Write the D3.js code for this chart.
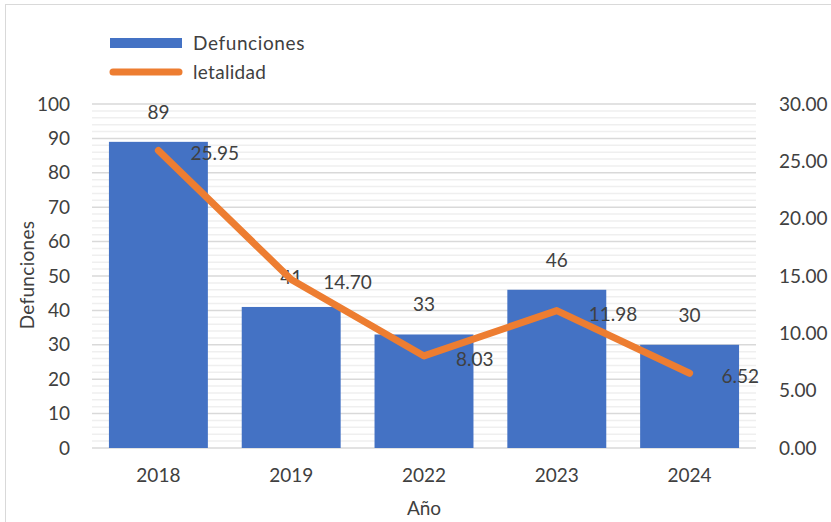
<!DOCTYPE html>
<html>
<head>
<meta charset="utf-8">
<script src="https://cdn.jsdelivr.net/npm/d3@7"></script>
<style>
  body { margin: 0; background: #fff; }
  text { font-family: Lato, "Open Sans", sans-serif; fill: #404040; }
</style>
</head>
<body>
<div id="chart"></div>
<script>

const years = ["2018", "2019", "2022", "2023", "2024"];
const defunciones = [89, 41, 33, 46, 30];
const letalidad = [25.95, 14.70, 8.03, 11.98, 6.52];
const leftTicks = [0, 10, 20, 30, 40, 50, 60, 70, 80, 90, 100];
const rightTicks = [0, 5, 10, 15, 20, 25, 30];

const W = 831, H = 522;
const plotLeft = 92, plotRight = 756, plotTop = 104, plotBottom = 448;
const fs = "19px";

let svg = d3.select("#chart")
    .append("svg")
    .attr("width", W)
    .attr("height", H);

// outer frame
svg.append("rect")
    .attr("x", 5.5).attr("y", 4.5)
    .attr("width", 840).attr("height", 540)
    .attr("fill", "none")
    .attr("stroke", "#d9d9d9");

const x = d3.scaleBand().domain(years).range([plotLeft, plotRight]).paddingInner(0.255).paddingOuter(0.1275);
const y = d3.scaleLinear().domain([0, 100]).range([plotBottom, plotTop]);
const y2 = d3.scaleLinear().domain([0, 30]).range([plotBottom, plotTop]);

// minor gridlines every 2
const minor = d3.range(0, 101, 2).filter(v => v % 10 !== 0);
svg.append("g").selectAll("line")
    .data(minor).join("line")
    .attr("x1", plotLeft).attr("x2", plotRight)
    .attr("y1", d => y(d)).attr("y2", d => y(d))
    .attr("stroke", "#efefef").attr("stroke-width", 1.5);

// major gridlines
svg.append("g").selectAll("line")
    .data(leftTicks).join("line")
    .attr("x1", plotLeft).attr("x2", plotRight)
    .attr("y1", d => y(d)).attr("y2", d => y(d))
    .attr("stroke", "#d9d9d9").attr("stroke-width", 1.5);

// left axis
const yAxis = svg.append("g")
    .attr("transform", `translate(${plotLeft},0)`)
    .call(d3.axisLeft(y).tickValues(leftTicks).tickSize(0).tickPadding(22));
yAxis.select(".domain").remove();
yAxis.selectAll("text").style("font-size", fs).attr("fill", "#404040");

// right axis
const y2Axis = svg.append("g")
    .attr("transform", `translate(${plotRight},0)`)
    .call(d3.axisRight(y2).tickValues(rightTicks).tickFormat(d3.format(".2f")).tickSize(0).tickPadding(23));
y2Axis.select(".domain").remove();
y2Axis.selectAll("text").style("font-size", fs).attr("fill", "#404040");

// x axis
const xAxis = svg.append("g")
    .attr("transform", `translate(0,${plotBottom})`)
    .call(d3.axisBottom(x).tickSize(0).tickPadding(21));
xAxis.select(".domain").remove();
xAxis.selectAll("text").style("font-size", fs).attr("fill", "#404040");

// bars
svg.append("g").selectAll("rect")
    .data(defunciones).join("rect")
    .attr("x", (d, i) => x(years[i]))
    .attr("y", d => y(d))
    .attr("width", x.bandwidth())
    .attr("height", d => plotBottom - y(d))
    .attr("fill", "#4472c4");

// bar labels
svg.append("g").selectAll("text")
    .data(defunciones).join("text")
    .attr("x", (d, i) => x(years[i]) + x.bandwidth() / 2)
    .attr("y", d => y(d) - 23)
    .attr("text-anchor", "middle")
    .style("font-size", fs)
    .text(d => d);

// line
const line = d3.line()
    .x((d, i) => x(years[i]) + x.bandwidth() / 2)
    .y(d => y2(d));

svg.append("path")
    .datum(letalidad)
    .attr("d", line)
    .attr("fill", "none")
    .attr("stroke", "#ed7d31")
    .attr("stroke-width", 7)
    .attr("stroke-linecap", "round")
    .attr("stroke-linejoin", "round");

// line labels
svg.append("g").selectAll("text")
    .data(letalidad).join("text")
    .attr("x", (d, i) => x(years[i]) + x.bandwidth() / 2 + 32)
    .attr("y", d => y2(d) + 10)
    .style("font-size", fs)
    .text(d => d3.format(".2f")(d));

// axis titles
svg.append("text")
    .attr("transform", "translate(34,275) rotate(-90)")
    .attr("text-anchor", "middle")
    .style("font-size", fs)
    .style("letter-spacing", "0.3px")
    .text("Defunciones");

svg.append("text")
    .attr("x", 424).attr("y", 515)
    .attr("text-anchor", "middle")
    .style("font-size", fs)
    .text("Año");

// legend
svg.append("rect")
    .attr("x", 110).attr("y", 38)
    .attr("width", 72).attr("height", 10)
    .attr("fill", "#4472c4");
svg.append("text")
    .attr("x", 193).attr("y", 50)
    .style("font-size", fs)
    .style("letter-spacing", "0.6px")
    .text("Defunciones");

svg.append("line")
    .attr("x1", 113).attr("x2", 179)
    .attr("y1", 72).attr("y2", 72)
    .attr("stroke", "#ed7d31")
    .attr("stroke-width", 7)
    .attr("stroke-linecap", "round");
svg.append("text")
    .attr("x", 193).attr("y", 79)
    .style("font-size", fs)
    .style("letter-spacing", "0.3px")
    .text("letalidad");

</script>
</body>
</html>
